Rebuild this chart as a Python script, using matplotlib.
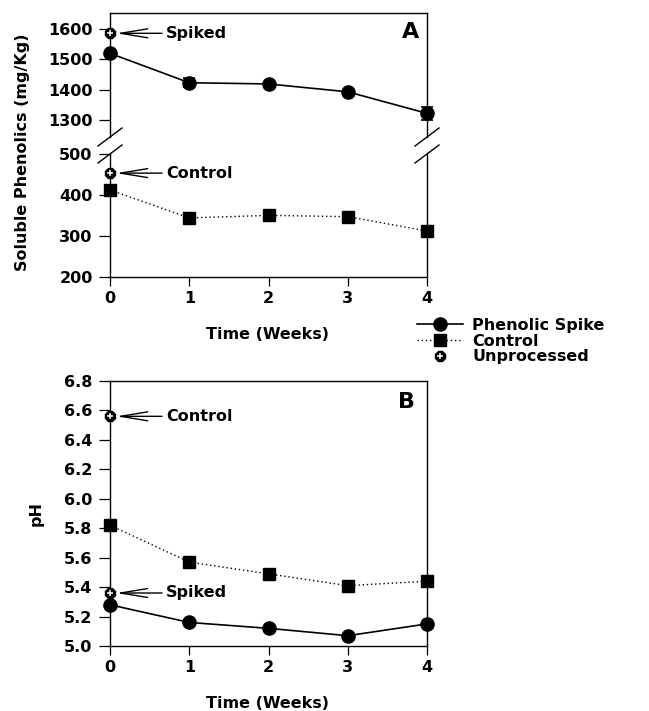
import matplotlib
matplotlib.use("Agg")
import matplotlib.pyplot as plt
from matplotlib.lines import Line2D
from matplotlib.legend_handler import HandlerTuple

plt.rcParams['font.family'] = ['DejaVu Sans']
plt.rcParams['font.weight'] = 'bold'

# ---------------- data ----------------
weeks = [0, 1, 2, 3, 4]
week_labels = ['0', '1', '2', '3', '4']

# Panel A: soluble phenolics (mg/Kg)
spike_phenolics = [1520, 1423, 1419, 1393, 1322]
spike_phenolics_err = [6, 15, 6, 4, 22]
control_phenolics = [412, 344, 350, 347, 312]
unproc_spiked_phenolics = 1586
unproc_control_phenolics = 453
upper_ticks = [1300, 1400, 1500, 1600]
lower_ticks = [200, 300, 400, 500]

# Panel B: pH
spike_ph = [5.28, 5.16, 5.12, 5.07, 5.15]
control_ph = [5.82, 5.57, 5.49, 5.41, 5.44]
unproc_control_ph = 6.56
unproc_spiked_ph = 5.36
ph_ticks = [5.0, 5.2, 5.4, 5.6, 5.8, 6.0, 6.2, 6.4, 6.6, 6.8]

# ---------------- layout helpers ----------------
W, H = 649, 711
fig = plt.figure(figsize=(W / 100, H / 100), dpi=100)


def fx(px):
    return px / W


def fy(py):
    return 1 - py / H


def box(l, t, r, b):
    return [fx(l), fy(b), fx(r) - fx(l), fy(t) - fy(b)]


L, R = 110, 427
axA_top = fig.add_axes(box(L, 13, R, 137))
axA_bot = fig.add_axes(box(L, 153, R, 277))
axB = fig.add_axes(box(L, 381, R, 646))

TICKFS = 11.5
for ax in (axA_top, axA_bot, axB):
    for s in ax.spines.values():
        s.set_linewidth(1.0)
    ax.set_xlim(0, 4)
    ax.tick_params(axis='y', direction='out', length=8, width=0.9, pad=4.5,
                   labelsize=TICKFS, right=False)
    ax.tick_params(axis='x', direction='out', length=6.5, width=0.9, pad=3.5,
                   labelsize=TICKFS, top=False)

# upper broken part
axA_top.spines['bottom'].set_visible(False)
axA_top.set_ylim(1244, 1653)
axA_top.set_yticks(upper_ticks)
axA_top.set_xticks([])
# lower broken part
axA_bot.spines['top'].set_visible(False)
axA_bot.set_ylim(200, 502)
axA_bot.set_yticks(lower_ticks)
axA_bot.set_xticks(weeks)
axA_bot.set_xticklabels(week_labels)

axB.set_ylim(5.0, 6.8)
axB.set_yticks(ph_ticks)
axB.set_yticklabels([f"{v:.1f}" for v in ph_ticks])
axB.set_xticks(weeks)
axB.set_xticklabels(week_labels)

MS_C = 9.5
MS_S = 8.5
LW = 1.2
DOT = (0, (1, 2))


def unprocessed(ax, y):
    ax.plot([0], [y], marker='8', ms=8.5, color='black', ls='none',
            clip_on=False, zorder=6)
    ax.plot([0], [y], marker='+', ms=4.5, mew=1.1, color='white', ls='none',
            clip_on=False, zorder=7)


def arrow_label(ax, text, y):
    ax.annotate(text, xy=(0, y), xytext=(40.5, 0), textcoords='offset points',
                va='center', ha='left', fontsize=11.5, annotation_clip=False,
                arrowprops=dict(arrowstyle='->,head_length=1.7,head_width=0.28',
                                lw=1.0, color='black', shrinkA=1, shrinkB=4.5))


# Panel A
eb = axA_top.errorbar(weeks, spike_phenolics, yerr=spike_phenolics_err,
                      fmt='-o', color='black', ms=MS_C, lw=LW, capsize=4.5,
                      elinewidth=1, capthick=1.2, clip_on=False, zorder=5)
for art in eb.lines[1] + eb.lines[2]:
    art.set_clip_on(False)
    art.set_zorder(6)
axA_bot.plot(weeks, control_phenolics, ls=DOT, marker='s', color='black',
             ms=MS_S, lw=1.0, clip_on=False, zorder=5)
unprocessed(axA_top, unproc_spiked_phenolics)
unprocessed(axA_bot, unproc_control_phenolics)
arrow_label(axA_top, 'Spiked', unproc_spiked_phenolics)
arrow_label(axA_bot, 'Control', unproc_control_phenolics)

# break marks
for xc in (L, R):
    for yc in (137, 154):
        fig.add_artist(Line2D([fx(xc - 12), fx(xc + 12)], [fy(yc + 9), fy(yc - 9)],
                              transform=fig.transFigure, color='black', lw=1.0))

# Panel B
axB.plot(weeks, spike_ph, ls='-', marker='o', color='black', ms=MS_C, lw=LW,
         clip_on=False, zorder=5)
axB.plot(weeks, control_ph, ls=DOT, marker='s', color='black', ms=MS_S, lw=1.0,
         clip_on=False, zorder=5)
unprocessed(axB, unproc_control_ph)
unprocessed(axB, unproc_spiked_ph)
arrow_label(axB, 'Control', unproc_control_ph)
arrow_label(axB, 'Spiked', unproc_spiked_ph)

# labels
fig.text(fx(23), fy(152), 'Soluble Phenolics (mg/Kg)', rotation=90,
         ha='center', va='center', fontsize=11.5)
fig.text(fx(36), fy(513), 'pH', rotation=90, ha='center', va='center', fontsize=11.5)
fig.text(fx(268), fy(335), 'Time (Weeks)', ha='center', va='center', fontsize=11.5)
fig.text(fx(268), fy(703), 'Time (Weeks)', ha='center', va='center', fontsize=11.5)
fig.text(fx(410.5), fy(32.5), 'A', ha='center', va='center', fontsize=16, weight='bold')
fig.text(fx(406), fy(402), 'B', ha='center', va='center', fontsize=16, weight='bold')

# legend
h_spike = Line2D([], [], color='black', marker='o', ms=MS_C, lw=LW)
h_ctrl = Line2D([], [], color='black', marker='s', ms=MS_S, lw=1.0, ls=DOT)
h_oct = Line2D([], [], color='black', marker='8', ms=8.5, ls='none')
h_plus = Line2D([], [], color='white', marker='+', ms=4.5, mew=1.1, ls='none')
fig.legend([h_spike, h_ctrl, (h_oct, h_plus)],
           ['Phenolic Spike', 'Control', 'Unprocessed'],
           handler_map={tuple: HandlerTuple(ndivide=1, pad=0)},
           loc='upper left', bbox_to_anchor=(fx(417), fy(318)),
           frameon=False, borderpad=0, borderaxespad=0, numpoints=1,
           handlelength=2.9, handletextpad=0.55, labelspacing=0.04,
           prop={'weight': 'bold', 'size': 11.5})

fig.savefig('out.png', dpi=100)
